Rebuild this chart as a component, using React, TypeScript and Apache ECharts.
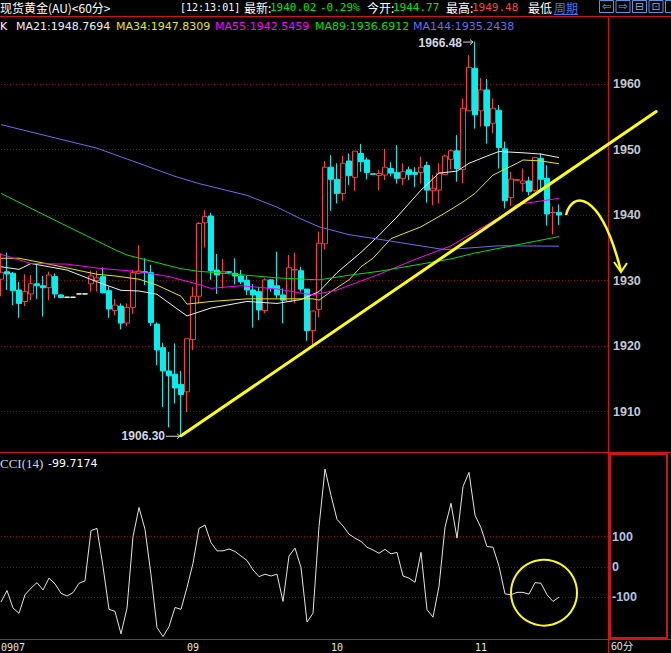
import React, { useEffect, useRef } from 'react';
import * as echarts from 'echarts';

const WIDTH = 671;
const HEIGHT = 653;

// hourly slots on the x axis (94 bars + empty room on the right)
const slotCount = 102;
const dayLabels: [number, string][] = [[0, '0907'], [31, '09'], [55, '10'], [79, '11']];

// [open, close, low, high]
const candles: number[][] = [
  [1930.2, 1931.25, 1927.6, 1934.15], [1931.35, 1931.0, 1928.55, 1934.25], [1931.1, 1928.45, 1926.25, 1931.3],
  [1928.55, 1926.5, 1924.3, 1929.8], [1926.8, 1928.3, 1926.1, 1930.95], [1927.95, 1929.5, 1927.0, 1930.85],
  [1929.5, 1929.2, 1927.2, 1932.4], [1929.2, 1928.9, 1924.5, 1930.7], [1928.9, 1930.85, 1927.0, 1931.35],
  [1930.6, 1927.95, 1927.3, 1931.1], [1927.8, 1927.4, 1927.3, 1927.95], [1927.45, 1927.45, 1927.45, 1927.45],
  [1927.45, 1927.45, 1927.45, 1927.45], [1927.95, 1927.95, 1927.95, 1927.95], [1927.95, 1927.95, 1927.95, 1927.95],
  [1929.5, 1930.7, 1928.3, 1931.5], [1930.0, 1930.4, 1928.3, 1931.5], [1930.6, 1928.15, 1928.0, 1932.0],
  [1928.45, 1925.65, 1924.3, 1929.1], [1925.4, 1926.25, 1924.7, 1927.2], [1926.1, 1923.5, 1922.55, 1926.5],
  [1923.5, 1925.9, 1923.05, 1926.5], [1925.9, 1931.2, 1924.9, 1931.6], [1931.1, 1931.45, 1931.0, 1935.4],
  [1931.35, 1931.2, 1929.3, 1933.4], [1931.2, 1923.6, 1923.05, 1932.4], [1923.35, 1919.4, 1917.1, 1923.6],
  [1919.75, 1916.2, 1910.7, 1920.5], [1916.2, 1915.45, 1907.6, 1919.1], [1915.7, 1913.6, 1911.25, 1920.4],
  [1914.15, 1912.6, 1906.3, 1916.2], [1913.0, 1921.1, 1909.9, 1921.1], [1921.0, 1927.6, 1919.4, 1929.05],
  [1927.6, 1938.7, 1926.5, 1938.9], [1938.8, 1939.75, 1935.05, 1940.75], [1939.85, 1931.5, 1930.1, 1940.35],
  [1931.6, 1930.85, 1927.95, 1934.05], [1931.1, 1931.4, 1928.8, 1933.3], [1931.35, 1931.25, 1931.0, 1931.4],
  [1931.1, 1930.7, 1929.4, 1933.4], [1930.7, 1929.8, 1929.45, 1931.6], [1930.05, 1928.55, 1927.8, 1930.7],
  [1928.55, 1927.8, 1922.8, 1929.45], [1928.3, 1925.5, 1923.95, 1929.05], [1925.4, 1930.1, 1925.0, 1930.35],
  [1930.1, 1928.8, 1928.3, 1930.2], [1929.2, 1927.8, 1927.3, 1934.4], [1927.8, 1927.0, 1923.5, 1928.8],
  [1926.8, 1931.95, 1926.7, 1933.9], [1931.6, 1931.7, 1926.5, 1934.25], [1931.5, 1928.7, 1928.3, 1932.1],
  [1928.7, 1922.35, 1920.8, 1928.7], [1922.35, 1925.35, 1920.05, 1925.4], [1925.6, 1935.7, 1924.4, 1937.45],
  [1935.6, 1947.3, 1934.75, 1948.25], [1947.3, 1945.45, 1940.65, 1949.15], [1945.45, 1943.3, 1941.8, 1947.9],
  [1943.3, 1947.9, 1942.2, 1949.05], [1948.25, 1946.0, 1944.6, 1949.4], [1945.75, 1949.75, 1943.7, 1949.75],
  [1949.4, 1948.15, 1946.6, 1950.85], [1948.4, 1946.5, 1945.45, 1948.75], [1946.3, 1946.2, 1946.2, 1946.3],
  [1946.05, 1946.35, 1943.8, 1946.9], [1946.1, 1947.3, 1945.35, 1950.1], [1947.1, 1946.4, 1945.9, 1948.05],
  [1946.5, 1945.6, 1944.8, 1950.7], [1945.6, 1946.6, 1944.6, 1947.9], [1946.9, 1946.2, 1945.35, 1947.4],
  [1946.5, 1946.2, 1944.3, 1947.3], [1946.5, 1947.3, 1944.8, 1948.9], [1947.55, 1943.8, 1941.9, 1948.15],
  [1943.7, 1944.1, 1941.5, 1946.1], [1943.8, 1946.4, 1941.8, 1947.9], [1946.2, 1949.0, 1946.2, 1949.2],
  [1948.5, 1949.8, 1947.0, 1950.0], [1949.8, 1947.1, 1945.1, 1952.2], [1946.97, 1956.3, 1944.9, 1957.8],
  [1955.9, 1962.55, 1955.9, 1964.4], [1962.4, 1955.3, 1953.2, 1966.48], [1955.9, 1959.1, 1953.5, 1960.9],
  [1959.1, 1953.6, 1950.9, 1960.75], [1954.0, 1956.3, 1952.5, 1957.8], [1956.0, 1950.3, 1947.1, 1956.8],
  [1950.1, 1942.2, 1941.0, 1951.2], [1942.65, 1945.5, 1941.4, 1946.6], [1945.3, 1945.4, 1945.3, 1945.4],
  [1944.85, 1945.2, 1943.56, 1947.1], [1945.2, 1943.56, 1943.0, 1945.85], [1943.7, 1948.75, 1943.56, 1948.9],
  [1948.65, 1945.45, 1943.8, 1949.4], [1945.6, 1940.15, 1938.4, 1947.6], [1940.35, 1940.4, 1937.05, 1941.3],
  [1940.4, 1940.02, 1938.5, 1941.6],
];

const cci14 = [
  -116, -78, -136, -153, -92, -70, -52, -76, -37, -56,
  -87, -96, -85, -54, -46, 120, 127, 1, -140, -147,
  -221, -136, 100, 196, 124, -26, -200, -230, -197, -134,
  -140, -68, 12, 127, 138, 80, 53, 53, 59, 51,
  36, 21, -10, -32, -24, -30, -24, -114, 36, 62,
  -2, -182, -153, 133, 323, 236, 157, 135, 108, 95,
  84, 65, 56, 45, 58, 43, 48, -30, -37, -51,
  48, -141, -166, -64, 131, 210, 95, 265, 312, 171,
  129, 67, 65, 2, -89, -92, -84, -84, -90, -52,
  -54, -92, -114, -99.7174,
];

// moving averages: [bar index, value]
const ma21: number[][] = [[0, 1932.1], [3, 1931.7], [5, 1932.6], [11, 1931.6], [16, 1929.8], [20, 1928.5], [23, 1928.4], [26, 1927.9], [29, 1925.9], [31, 1924.6], [35, 1925.8], [41, 1926.8], [46, 1926.5], [50, 1927.1], [53, 1928.3], [56, 1931.2], [60, 1934.3], [63, 1936.9], [66, 1939.7], [70, 1943.8], [73, 1946.4], [76, 1946.7], [78, 1947.9], [81, 1949.0], [83, 1949.7], [87, 1949.5], [90, 1949.3], [93, 1948.77]];
const ma34: number[][] = [[0, 1933.4], [3, 1933.4], [8, 1932.5], [16, 1930.95], [19, 1930.7], [23, 1930.2], [26, 1929.3], [30, 1927.6], [31, 1926.4], [35, 1926.8], [41, 1927.2], [46, 1927.2], [52, 1927.2], [53, 1927.0], [55, 1928.3], [58, 1930.1], [60, 1932.1], [62, 1933.4], [65, 1936.4], [70, 1938.2], [74, 1940.3], [77, 1942.0], [79, 1943.3], [82, 1946.1], [86, 1947.9], [87, 1948.4], [90, 1948.25], [93, 1947.83]];
const ma55: number[][] = [[0, 1934.0], [5, 1932.6], [11, 1932.5], [16, 1931.9], [23, 1931.35], [28, 1930.6], [33, 1929.4], [35, 1928.8], [40, 1929.2], [46, 1928.7], [52, 1927.8], [56, 1928.55], [63, 1930.95], [69, 1933.2], [75, 1935.3], [83, 1939.6], [86, 1941.6], [93, 1942.55]];
const ma89: number[][] = [[0, 1943.3], [9, 1939.2], [19, 1934.7], [21, 1933.9], [30, 1931.8], [33, 1931.4], [36, 1931.2], [46, 1930.4], [53, 1930.1], [58, 1930.8], [63, 1931.4], [75, 1933.3], [79, 1934.2], [93, 1936.7]];
const ma144: number[][] = [[0, 1953.8], [16, 1950.2], [29, 1945.9], [33, 1944.8], [41, 1943.0], [46, 1941.2], [50, 1939.4], [53, 1938.2], [58, 1937.0], [63, 1936.3], [74, 1934.7], [83, 1935.3], [93, 1935.24]];

const maNames = ['MA21', 'MA34', 'MA55', 'MA89', 'MA144'];
const maLast = ['1948.7694', '1947.8309', '1942.5459', '1936.6912', '1935.2438'];
const maColors = ['#f0f0f0', '#e8e800', '#ff00ff', '#00e000', '#6c6cf0'];

const priceTicks = [1910, 1920, 1930, 1940, 1950, 1960];
const priceRange = [1903.82, 1970.23];
const cciTicks = [100, 0, -100];
const cciRange = [-238, 376];

const quote = { time: '12:13:01', last: '1940.02', change: '-0.29%', open: '1944.77', high: '1949.48' };
const extremeHigh = { index: 79, value: 1966.48 };
const extremeLow = { index: 30, value: 1906.3 };
const trendEnd = { index: 90, value: 1943.8 };
const cciTitle = { name: 'CCI(14)', value: '-99.7174' };

const RED = '#d01414';
const GRID_RED = '#9a0000';
const CJK = '"Noto Sans CJK SC", sans-serif';
const MONO = '"DejaVu Sans Mono", monospace';

const cats = Array.from({ length: slotCount }, (_, i) => 'b' + i);
const labelFor = (idx: number) => {
  const d = dayLabels.find((t) => t[0] === idx);
  return d ? d[1] : '';
};

function txt(x: number, y: number, text: string, fill: string, font: string, align = 'left') {
  return {
    type: 'text', x, y, z: 100, silent: true,
    style: { text, fill, font, align, textAlign: align, verticalAlign: 'middle', textVerticalAlign: 'middle' },
  };
}
function ln(x1: number, y1: number, x2: number, y2: number, stroke: string, lineWidth = 1) {
  return { type: 'line', z: 100, silent: true, shape: { x1, y1, x2, y2 }, style: { stroke, lineWidth } };
}

function buildOption() {
  const hiddenX = (gridIndex: number) => ({
    type: 'category', gridIndex, data: cats, boundaryGap: true,
    axisLine: { show: false }, axisTick: { show: false }, splitLine: { show: false },
    axisLabel: { show: false },
  });
  const dotted = { show: true, lineStyle: { color: GRID_RED, type: [1, 2], width: 1 } };
  const maSeries = [ma21, ma34, ma55, ma89, ma144].map((d, k) => ({
    type: 'line', name: maNames[k], xAxisIndex: 0, yAxisIndex: 0, data: d,
    symbol: 'none', z: 3, silent: true,
    lineStyle: { color: maColors[k], width: 1 },
  }));
  const plain = (v: number) => String(v);
  return {
    animation: false,
    backgroundColor: '#000',
    grid: [
      { left: -2, top: 17, width: 612, height: 435, outerBoundsMode: 'none', containLabel: false },
      { left: -2, top: 453, width: 612, height: 186, outerBoundsMode: 'none', containLabel: false },
    ],
    xAxis: [
      hiddenX(0),
      {
        ...hiddenX(1),
        axisLabel: {
          show: true, interval: 0, align: 'left', margin: 3,
          color: '#e6e6e6', fontFamily: MONO, fontSize: 10,
          formatter: (_v: string, idx: number) => labelFor(idx),
        },
      },
    ],
    yAxis: [
      {
        type: 'value', gridIndex: 0, position: 'right', min: priceRange[0], max: priceRange[1],
        axisLine: { show: false }, axisTick: { show: false, customValues: priceTicks },
        axisLabel: {
          customValues: priceTicks, formatter: plain, color: '#c4c8d0', fontFamily: '"Liberation Sans", Arial, sans-serif',
          fontWeight: 'bold', fontSize: 12.5, margin: 3, align: 'left',
        },
        splitLine: dotted,
      },
      {
        type: 'value', gridIndex: 1, position: 'right', min: cciRange[0], max: cciRange[1],
        axisLine: { show: false }, axisTick: { show: false, customValues: cciTicks },
        axisLabel: {
          customValues: cciTicks, formatter: plain, color: '#b0c4e4', fontFamily: '"Liberation Sans", Arial, sans-serif',
          fontWeight: 'bold', fontSize: 12.5, margin: 2, align: 'left',
        },
        splitLine: dotted,
      },
    ],
    series: [
      {
        type: 'candlestick', xAxisIndex: 0, yAxisIndex: 0, data: candles, barWidth: 5, z: 2, silent: true,
        itemStyle: {
          color: '#000', color0: '#00f0f0', borderColor: '#ff3c3c', borderColor0: '#00f0f0',
          borderColorDoji: '#ffffff', borderWidth: 1,
        },
      },
      ...maSeries,
      {
        type: 'line', xAxisIndex: 1, yAxisIndex: 1, data: cci14, symbol: 'none', silent: true,
        lineStyle: { color: '#e4e4e4', width: 1 },
      },
    ],
  };
}

function staticGraphics() {
  const g: any[] = [];
  // frame
  g.push(ln(0, 16.5, WIDTH, 16.5, RED));
  g.push(ln(0, 452.5, WIDTH, 452.5, RED));
  g.push(ln(0, 639.5, WIDTH, 639.5, RED));
  g.push(ln(608.5, 17, 608.5, HEIGHT, RED));
  g.push({ type: 'rect', z: 100, silent: true, shape: { x: 610, y: 454, width: 57, height: 184 }, style: { stroke: RED, fill: 'none', lineWidth: 2 } });
  // header
  const hy = 7.5;
  g.push(txt(0, hy, '现货黄金(AU)<60分>', '#ffffff', `12px ${CJK}`));
  g.push(txt(180, hy, `[${quote.time}]`, '#ffffff', `10px ${MONO}`));
  g.push(txt(244, hy, '最新:', '#ffffff', `12px ${CJK}`));
  g.push(txt(270, hy, quote.last, '#00e600', `11px ${MONO}`));
  g.push(txt(320, hy, quote.change, '#00e600', `11px ${MONO}`));
  g.push(txt(367, hy, '今开:', '#ffffff', `12px ${CJK}`));
  g.push(txt(393, hy, quote.open, '#00e600', `11px ${MONO}`));
  g.push(txt(446, hy, '最高:', '#ffffff', `12px ${CJK}`));
  g.push(txt(472, hy, quote.high, '#ff4040', `11px ${MONO}`));
  g.push(txt(528, hy, '最低', '#ffffff', `12px ${CJK}`));
  g.push({ type: 'rect', z: 100, silent: true, shape: { x: 552, y: 0, width: 26, height: 15 }, style: { fill: '#000' } });
  g.push(txt(554, hy, '周期', '#3c78ff', `12px ${CJK}`));
  g.push(ln(554, 14.5, 578, 14.5, '#3c78ff'));
  const icons = ['⇦', '⇨', '⊟', '⊡', ''];
  icons.forEach((ic, k) => {
    const x = 599 + k * 16.5;
    g.push({ type: 'rect', z: 100, silent: true, shape: { x: x + 0.5, y: 0.5, width: 14, height: 12 }, style: { stroke: '#5a96dc', fill: '#000', lineWidth: 1 } });
    if (ic) g.push(txt(x + 7.5, 6.5, ic, '#7ab0f0', `11px "DejaVu Sans", sans-serif`, 'center'));
  });
  // legend
  const ly = 26;
  g.push(txt(0, ly, 'K', '#ffffff', `11px "DejaVu Sans", sans-serif`));
  const lx = [16, 116, 215, 315, 413];
  maNames.forEach((n, k) => {
    g.push(txt(lx[k], ly, `${n}:${maLast[k]}`, maColors[k], `11px "DejaVu Sans", sans-serif`));
  });
  // CCI title
  g.push(txt(0, 463, cciTitle.name, '#c8d2e4', `13px "Liberation Serif", serif`));
  g.push(txt(48, 463, cciTitle.value, '#ffffff', `11px "DejaVu Sans", sans-serif`));
  // period label at the bottom-right
  g.push(txt(611, 645.5, '60分', '#e6e6e6', `10.5px ${CJK}`));
  return g;
}

export default function App() {
  const ref = useRef<HTMLDivElement>(null);
  useEffect(() => {
    document.body.style.margin = '0';
    document.body.style.background = '#000';
    const el = ref.current!;
    const chart = echarts.init(el, null, { renderer: 'svg', width: WIDTH, height: HEIGHT });
    chart.setOption(buildOption() as any);

    const p0 = (i: number, v: number) => chart.convertToPixel({ gridIndex: 0 }, [i, v]) as number[];
    const p1 = (i: number, v: number) => chart.convertToPixel({ gridIndex: 1 }, [i, v]) as number[];
    const g = staticGraphics();
    const labelColor = '#d0d8e0';
    const boldFont = 'bold 12px "Liberation Sans", Arial, sans-serif';

    // highest price marker
    const hi = p0(extremeHigh.index, extremeHigh.value);
    g.push(txt(hi[0] - 13, hi[1] + 1, extremeHigh.value.toFixed(2), labelColor, boldFont, 'right'));
    g.push(ln(hi[0] - 12, hi[1] + 0.5, hi[0] - 2, hi[1] + 0.5, labelColor));
    g.push({ type: 'polyline', z: 100, silent: true, shape: { points: [[hi[0] - 5, hi[1] - 2], [hi[0] - 2, hi[1] + 0.5], [hi[0] - 5, hi[1] + 3]] }, style: { stroke: labelColor, fill: 'none', lineWidth: 1 } });

    // lowest price marker
    const lo = p0(extremeLow.index, extremeLow.value);
    g.push(txt(lo[0] - 16, lo[1] + 0.5, extremeLow.value.toFixed(2), labelColor, boldFont, 'right'));
    g.push(ln(lo[0] - 15, lo[1] + 0.5, lo[0] - 1, lo[1] + 0.5, labelColor));
    g.push({ type: 'polyline', z: 100, silent: true, shape: { points: [[lo[0] - 4, lo[1] - 2], [lo[0] - 1, lo[1] + 0.5], [lo[0] - 4, lo[1] + 3]] }, style: { stroke: labelColor, fill: 'none', lineWidth: 1 } });

    // trend line through the low, extended to the right
    const te = p0(trendEnd.index, trendEnd.value);
    const f = 1.32;
    g.push({ type: 'line', z: 101, silent: true, shape: { x1: lo[0], y1: lo[1], x2: lo[0] + (te[0] - lo[0]) * f, y2: lo[1] + (te[1] - lo[1]) * f }, style: { stroke: '#ffff00', lineWidth: 3, lineCap: 'round' } });

    // curved arrow after the last bar
    const a = p0(candles.length - 1, 1940);
    g.push({
      type: 'bezierCurve', z: 101, silent: true,
      shape: { x1: a[0] + 7, y1: a[1], cpx1: a[0] + 13, cpy1: a[1] - 24, cpx2: a[0] + 41, cpy2: a[1] - 26, x2: a[0] + 62, y2: a[1] + 56 },
      style: { stroke: '#ffff00', lineWidth: 2.5, fill: 'none' },
    });
    g.push({ type: 'polyline', z: 101, silent: true, shape: { points: [[a[0] + 55, a[1] + 47], [a[0] + 62, a[1] + 57], [a[0] + 68, a[1] + 48]] }, style: { stroke: '#ffff00', lineWidth: 2, fill: 'none' } });

    // circle around the latest CCI readings
    const c1 = p1(90, -85);
    const c2 = p1(91, -85);
    g.push({ type: 'circle', z: 101, silent: true, shape: { cx: (c1[0] + c2[0]) / 2, cy: c1[1], r: 33 }, style: { stroke: '#ffff00', fill: 'none', lineWidth: 2 } });

    chart.setOption({ graphic: g } as any);
    return () => chart.dispose();
  }, []);
  return (
    <div
      ref={ref}
      style={{ position: 'absolute', left: 0, top: 0, width: WIDTH, height: HEIGHT, background: '#000' }}
    />
  );
}
